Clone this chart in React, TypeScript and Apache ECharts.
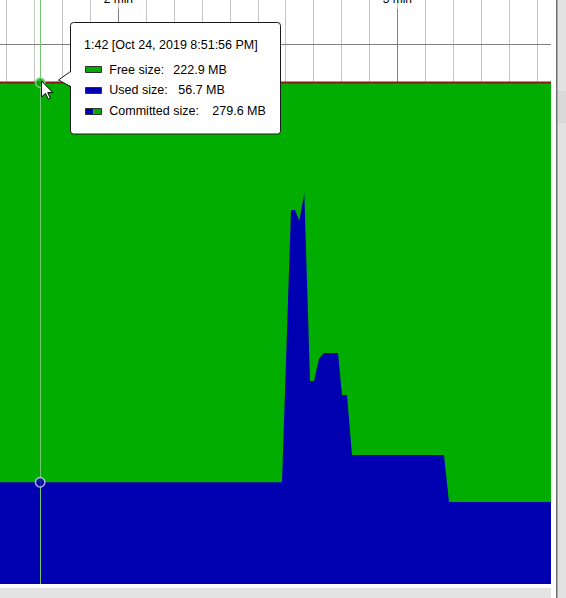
import React, { useEffect, useRef } from 'react';
import * as echarts from 'echarts';

// ---- data (seconds since start, MB) ----
const times = [90, 103.2, 155.2, 157.14, 158.0, 158.92, 160.0, 161.23, 162.09, 163.16, 163.7, 164.24, 167.25, 168.11, 169.18, 170.26, 190.04, 191.12, 213.05];
const usedMB = [56.7, 56.7, 56.7, 208.5, 208.5, 202.4, 217.8, 113.2, 113.2, 125.4, 127.4, 128.8, 128.8, 105.4, 105.4, 71.9, 71.9, 45.7, 45.7];
const committedMB = [279.6, 279.6, 279.6, 279.6, 279.6, 279.6, 279.6, 279.6, 279.6, 279.6, 279.6, 279.6, 279.6, 279.6, 279.6, 279.6, 279.6, 279.6, 279.6];
const majorTickSeconds = [120, 180];
const legendLabels = ['Free size:', 'Used size:', 'Committed size:'];
const hoverIndex = 1;
const hoverTitle = '1:42 [Oct 24, 2019 8:51:56 PM]';

const GREEN = '#00ad00';
const BLUE = '#0000b0';
const FONT = '"Liberation Sans", Arial, sans-serif';

export default function App() {
  const ref = useRef<HTMLDivElement>(null);

  useEffect(() => {
    if (!ref.current) return;
    const chart = echarts.init(ref.current, undefined, { renderer: 'svg' });

    const hi = hoverIndex;
    const used = usedMB[hi];
    const committed = committedMB[hi];
    const free = committed - used;
    const values = [free, used, committed].map((v) => `${v.toFixed(1)} MB`);
    const rowY = [69.5, 90.3, 111];
    const valueX = [173.3, 178.3, 212.3];

    const cursor = [[0, 0], [0, 16], [4, 12.4], [6.8, 18.2], [8.9, 17.2], [6.2, 11.6], [11.4, 11.6]];

    const graphic: any[] = [
      { type: 'rect', shape: { x: 551, y: 0, width: 5, height: 598 }, style: { fill: '#ffffff' }, z: 100 },
      { type: 'rect', shape: { x: 556, y: 0, width: 1, height: 598 }, style: { fill: '#6e6e6e' }, z: 100 },
      { type: 'rect', shape: { x: 557, y: 0, width: 1, height: 598 }, style: { fill: '#a9a9a9' }, z: 100 },
      { type: 'rect', shape: { x: 558, y: 0, width: 8, height: 598 }, style: { fill: '#e2e2e2' }, z: 100 },
      { type: 'rect', shape: { x: 558, y: 91, width: 8, height: 32 }, style: { fill: '#d9d9d9' }, z: 100 },
      { type: 'rect', shape: { x: 0, y: 588, width: 551, height: 10 }, style: { fill: '#e3e3e3' }, z: 100 },
      // tooltip box
      { type: 'rect', shape: { x: 70.5, y: 22.5, width: 210, height: 111.5, r: 3 }, style: { fill: '#ffffff', stroke: '#1a1a1a', lineWidth: 1 }, z: 110 },
      { type: 'polygon', shape: { points: [[71.6, 71.5], [58, 80], [71.6, 86.5]] }, style: { fill: '#ffffff' }, z: 111 },
      { type: 'polyline', shape: { points: [[70.5, 71.5], [58.5, 80], [70.5, 86.5]] }, style: { stroke: '#1a1a1a', lineWidth: 1, fill: null }, z: 112 },
      { type: 'text', x: 84, y: 45, style: { text: hoverTitle, font: `12.5px ${FONT}`, fill: '#000', verticalAlign: 'middle', align: 'left' }, z: 113 },
      // swatches
      { type: 'rect', shape: { x: 85.5, y: 66.5, width: 16, height: 6 }, style: { fill: GREEN, stroke: '#303030', lineWidth: 1 }, z: 113 },
      { type: 'rect', shape: { x: 85.5, y: 87.5, width: 16, height: 6 }, style: { fill: BLUE, stroke: '#303030', lineWidth: 1 }, z: 113 },
      { type: 'rect', shape: { x: 85.5, y: 108.5, width: 8, height: 6 }, style: { fill: BLUE }, z: 113 },
      { type: 'rect', shape: { x: 93.5, y: 108.5, width: 8, height: 6 }, style: { fill: GREEN }, z: 113 },
      { type: 'rect', shape: { x: 85.5, y: 108.5, width: 16, height: 6 }, style: { fill: null, stroke: '#303030', lineWidth: 1 }, z: 114 },
    ];
    legendLabels.forEach((lab, i) => {
      graphic.push({ type: 'text', x: 109.3, y: rowY[i], style: { text: lab, font: `12.5px ${FONT}`, fill: '#000', verticalAlign: 'middle', align: 'left' }, z: 113 });
      graphic.push({ type: 'text', x: valueX[i], y: rowY[i], style: { text: values[i], font: `12.5px ${FONT}`, fill: '#000', verticalAlign: 'middle', align: 'left' }, z: 113 });
    });
    graphic.push({
      type: 'polygon',
      shape: { points: cursor.map(([a, b]) => [41.5 + a, 81 + b]) },
      style: { fill: '#ffffff', stroke: '#000000', lineWidth: 1 },
      z: 120,
    });

    const option: any = {
      animation: false,
      backgroundColor: '#ffffff',
      grid: [
        { left: -21.2, right: 1.3, top: 0, bottom: 14, containLabel: false, outerBoundsMode: 'none' },
        { left: -160.7, right: 1.3, top: 44, height: 40, containLabel: false, outerBoundsMode: 'none' },
      ],
      xAxis: [
        {
          type: 'value', gridIndex: 0, min: 90, max: 216, interval: 6,
          axisLine: { show: false, onZero: false }, axisTick: { show: false }, axisLabel: { show: false },
          splitLine: { show: true, lineStyle: { color: '#c4c4c4', width: 1 } },
        },
        {
          type: 'value', gridIndex: 1, position: 'top', min: 60, max: 216, interval: 60,
          axisLine: { show: true, onZero: false, lineStyle: { color: '#808080', width: 1 } },
          axisTick: { show: true, length: 35, lineStyle: { color: '#808080', width: 1 } },
          axisLabel: {
            show: true, margin: 39, color: '#000', fontSize: 12, fontFamily: FONT,
            formatter: (v: number) => (majorTickSeconds.includes(v) ? `${v / 60} min` : ''),
          },
          splitLine: { show: true, lineStyle: { color: '#808080', width: 1 } },
        },
      ],
      yAxis: [
        { type: 'value', gridIndex: 0, min: 0, max: 325.58, show: false },
        { type: 'value', gridIndex: 1, min: 0, max: 1, show: false },
      ],
      series: [
        {
          type: 'line', name: 'Committed size', xAxisIndex: 0, yAxisIndex: 0,
          data: times.map((t, i) => [t, committedMB[i]]),
          symbol: 'none', showSymbol: false, silent: true,
          lineStyle: { color: '#821c12', width: 2 },
          areaStyle: { color: GREEN, opacity: 1 },
          z: 2,
        },
        {
          type: 'line', name: 'Used size', xAxisIndex: 0, yAxisIndex: 0,
          data: times.map((t, i) => [t, usedMB[i]]),
          symbol: 'none', showSymbol: false, silent: true,
          lineStyle: { width: 0, color: BLUE },
          areaStyle: { color: BLUE, opacity: 1 },
          z: 3,
          markLine: {
            silent: true, symbol: ['none', 'none'], label: { show: false }, z: 5,
            lineStyle: { color: '#74c674', width: 1, type: 'solid' },
            data: [{ xAxis: times[hi] }],
          },
        },
        {
          type: 'scatter', xAxisIndex: 0, yAxisIndex: 0, silent: true, symbolSize: 9.5, z: 6,
          data: [
            { value: [times[hi], committedMB[hi]], itemStyle: { color: GREEN, borderColor: '#9fe09f', borderWidth: 1.5 } },
            { value: [times[hi], usedMB[hi]], itemStyle: { color: BLUE, borderColor: '#d4d4ff', borderWidth: 1.5 } },
          ],
        },
      ],
      graphic,
    };

    chart.setOption(option);
    return () => chart.dispose();
  }, []);

  return <div ref={ref} style={{ position: 'absolute', left: 0, top: 0, width: 566, height: 598 }} />;
}
